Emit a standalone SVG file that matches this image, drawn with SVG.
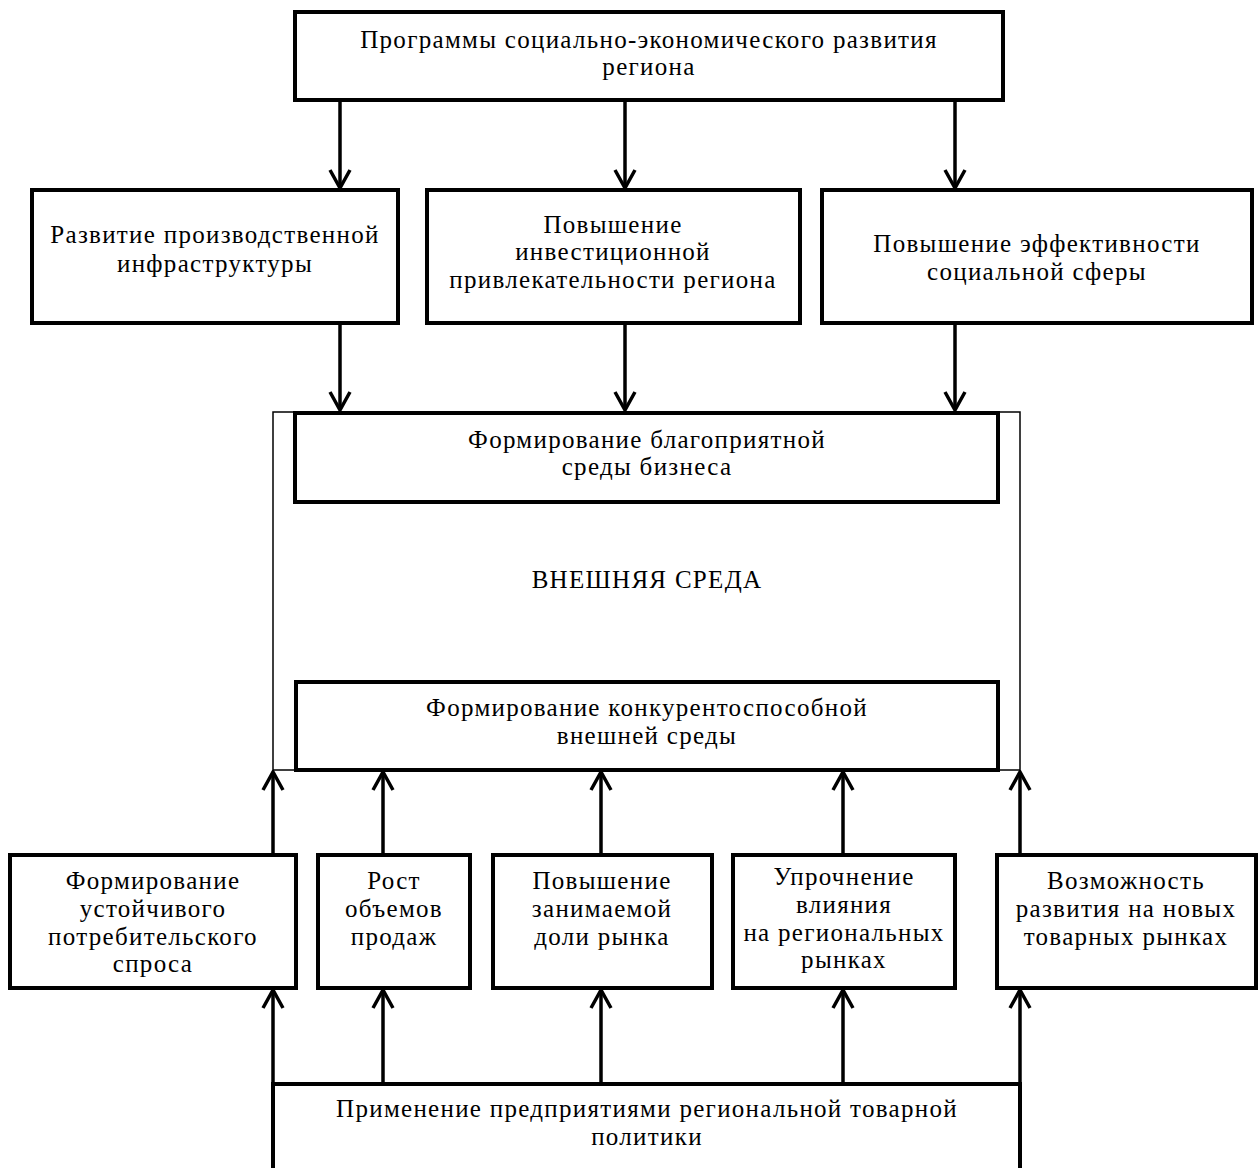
<svg xmlns="http://www.w3.org/2000/svg" width="1260" height="1168" viewBox="0 0 1260 1168">
<style>
.box{fill:#fff;stroke:#000;stroke-width:4}
.thin{fill:none;stroke:#000;stroke-width:1.5}
.t{font-family:"Liberation Serif","DejaVu Serif",serif;font-size:25px;letter-spacing:1.3px;text-anchor:middle;fill:#000}
.c line,.c path{stroke:#000;stroke-width:3.5;fill:none}
</style>
<defs>
<marker id="ah" viewBox="-2 -12 22 24" refX="18" refY="0" markerWidth="22" markerHeight="24" markerUnits="userSpaceOnUse" orient="auto">
<path d="M0,-10 L18,0 L0,10" fill="none" stroke="#000" stroke-width="3.5"/>
</marker>
</defs>
<rect width="1260" height="1168" fill="#fff"/>
<g id="outer-env">
<rect class="thin" x="273" y="412" width="747" height="358"/>
<text class="t" x="647" y="588">ВНЕШНЯЯ СРЕДА</text>
</g>
<g id="programs">
<rect class="box" x="295" y="12" width="708" height="88"/>
<text class="t" x="649" y="48">Программы социально-экономического развития</text>
<text class="t" x="649" y="75">региона</text>
</g>
<g id="infra">
<rect class="box" x="32" y="190" width="366" height="133"/>
<text class="t" x="215" y="243">Развитие производственной</text>
<text class="t" x="215" y="272">инфраструктуры</text>
</g>
<g id="invest">
<rect class="box" x="427" y="190" width="373" height="133"/>
<text class="t" x="613" y="233">Повышение</text>
<text class="t" x="613" y="260">инвестиционной</text>
<text class="t" x="613" y="288">привлекательности региона</text>
</g>
<g id="social">
<rect class="box" x="822" y="190" width="430" height="133"/>
<text class="t" x="1037" y="252">Повышение эффективности</text>
<text class="t" x="1037" y="280">социальной сферы</text>
</g>
<g id="business">
<rect class="box" x="295" y="413" width="703" height="89"/>
<text class="t" x="647" y="448">Формирование благоприятной</text>
<text class="t" x="647" y="475">среды бизнеса</text>
</g>
<g id="competitive">
<rect class="box" x="296" y="682" width="702" height="88"/>
<text class="t" x="647" y="716">Формирование конкурентоспособной</text>
<text class="t" x="647" y="744">внешней среды</text>
</g>
<g id="demand">
<rect class="box" x="10" y="855" width="286" height="133"/>
<text class="t" x="153" y="889">Формирование</text>
<text class="t" x="153" y="917">устойчивого</text>
<text class="t" x="153" y="945">потребительского</text>
<text class="t" x="153" y="972">спроса</text>
</g>
<g id="sales">
<rect class="box" x="318" y="855" width="152" height="133"/>
<text class="t" x="394" y="889">Рост</text>
<text class="t" x="394" y="917">объемов</text>
<text class="t" x="394" y="945">продаж</text>
</g>
<g id="share">
<rect class="box" x="493" y="855" width="219" height="133"/>
<text class="t" x="602" y="889">Повышение</text>
<text class="t" x="602" y="917">занимаемой</text>
<text class="t" x="602" y="945">доли рынка</text>
</g>
<g id="influence">
<rect class="box" x="733" y="855" width="222" height="133"/>
<text class="t" x="844" y="885">Упрочнение</text>
<text class="t" x="844" y="913">влияния</text>
<text class="t" x="844" y="941">на региональных</text>
<text class="t" x="844" y="968">рынках</text>
</g>
<g id="newmarkets">
<rect class="box" x="997" y="855" width="259" height="133"/>
<text class="t" x="1126" y="889">Возможность</text>
<text class="t" x="1126" y="917">развития на новых</text>
<text class="t" x="1126" y="945">товарных рынках</text>
</g>
<g id="policy">
<path d="M273,1168 L273,1084 L1020,1084 L1020,1168" fill="none" stroke="#000" stroke-width="4"/>
<text class="t" x="647" y="1117">Применение предприятиями региональной товарной</text>
<text class="t" x="647" y="1145">политики</text>
</g>
<g id="connectors" class="c">
<line x1="340" y1="100" x2="340" y2="188" marker-end="url(#ah)"/>
<line x1="625" y1="100" x2="625" y2="188" marker-end="url(#ah)"/>
<line x1="955" y1="100" x2="955" y2="188" marker-end="url(#ah)"/>
<line x1="340" y1="323" x2="340" y2="410" marker-end="url(#ah)"/>
<line x1="625" y1="323" x2="625" y2="410" marker-end="url(#ah)"/>
<line x1="955" y1="323" x2="955" y2="410" marker-end="url(#ah)"/>
<line x1="273" y1="855" x2="273" y2="772" marker-end="url(#ah)"/>
<line x1="383" y1="855" x2="383" y2="772" marker-end="url(#ah)"/>
<line x1="601" y1="855" x2="601" y2="772" marker-end="url(#ah)"/>
<line x1="843" y1="855" x2="843" y2="772" marker-end="url(#ah)"/>
<line x1="1020" y1="855" x2="1020" y2="772" marker-end="url(#ah)"/>
<line x1="273" y1="1084" x2="273" y2="990" marker-end="url(#ah)"/>
<line x1="383" y1="1084" x2="383" y2="990" marker-end="url(#ah)"/>
<line x1="601" y1="1084" x2="601" y2="990" marker-end="url(#ah)"/>
<line x1="843" y1="1084" x2="843" y2="990" marker-end="url(#ah)"/>
<line x1="1020" y1="1084" x2="1020" y2="990" marker-end="url(#ah)"/>
</g>
</svg>
